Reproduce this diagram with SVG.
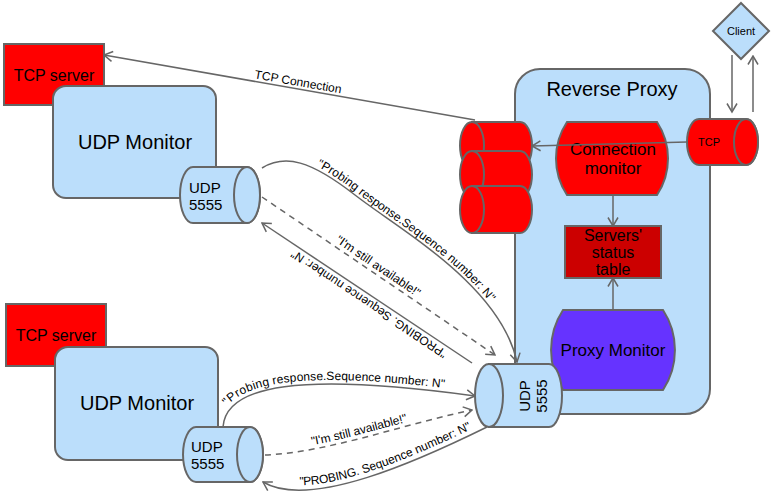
<svg xmlns="http://www.w3.org/2000/svg" width="774" height="497" viewBox="0 0 774 497">
<style>
.s{stroke:#666666;stroke-width:2}
.blue{fill:#BBDEFB}
.red{fill:#FF0000}
text{font-family:"Liberation Sans",Arial,Helvetica,sans-serif;fill:#000000}
.c{fill:none;stroke:#666666;stroke-width:1.5}
.d{stroke-dasharray:6 5}
.lbl{font-size:12px}
.m{text-anchor:middle}
</style>
<defs>
<marker id="arr" viewBox="-1 -7 11 14" refX="8.5" refY="0" markerWidth="11" markerHeight="14" markerUnits="userSpaceOnUse" orient="auto">
<path d="M0,-5 L8.5,0 L0,5" fill="none" stroke="#666666" stroke-width="1.5"/>
</marker>
<path id="tp-tcp" d="M104,55 L475,120"/>
<path id="tp-bprobe" d="M263,482 C310,510 420,460 487,427"/>
</defs>
<rect x="0" y="0" width="774" height="497" fill="#FFFFFF"/>

<g id="tcp-server-1">
<rect x="4" y="44" width="100" height="61" class="red s"/>
<text x="54" y="81" font-size="16" class="m">TCP server</text>
</g>
<g id="udp-monitor-1">
<rect x="53" y="86" width="163" height="112" rx="13" class="blue s"/>
<text x="135" y="149" font-size="20" class="m">UDP Monitor</text>
</g>
<g id="udp-port-1">
<path d="M193,167 L247,167 A13,28 0 0 1 247,223 L193,223 A13,28 0 0 1 193,167 Z" class="blue s"/>
<ellipse cx="247" cy="195" rx="13" ry="28" class="blue s"/>
<text x="189" y="193" font-size="15">UDP</text>
<text x="189" y="210" font-size="15">5555</text>
</g>

<g id="tcp-server-2">
<rect x="6" y="304" width="100" height="62" class="red s"/>
<text x="56" y="341" font-size="16" class="m">TCP server</text>
</g>
<g id="udp-monitor-2">
<rect x="55" y="347" width="163" height="113" rx="13" class="blue s"/>
<text x="137" y="410" font-size="20" class="m">UDP Monitor</text>
</g>
<g id="udp-port-2">
<path d="M196,427 L250,427 A13,27.5 0 0 1 250,482 L196,482 A13,27.5 0 0 1 196,427 Z" class="blue s"/>
<ellipse cx="250" cy="454.5" rx="13" ry="27.5" class="blue s"/>
<text x="191" y="452" font-size="15">UDP</text>
<text x="191" y="469" font-size="15">5555</text>
</g>

<g id="reverse-proxy">
<rect x="515" y="69" width="195" height="345" rx="25" class="blue s"/>
<text x="612" y="96" font-size="20" class="m">Reverse Proxy</text>
</g>

<g id="backend-connections">
<path d="M472,122 L520,122 A12,23.5 0 0 1 520,169 L472,169 Z" class="red s"/>
<ellipse cx="472" cy="145.5" rx="12" ry="23.5" class="red s"/>
<path d="M472,151 L520,151 A12,23.5 0 0 1 520,198 L472,198 Z" class="red s"/>
<ellipse cx="472" cy="174.5" rx="12" ry="23.5" class="red s"/>
<path d="M472,186 L520,186 A12,23.5 0 0 1 520,233 L472,233 Z" class="red s"/>
<ellipse cx="472" cy="209.5" rx="12" ry="23.5" class="red s"/>
</g>

<g id="tcp-port">
<path d="M699,119 L746,119 A12,23 0 0 1 746,165 L699,165 A12,23 0 0 1 699,119 Z" class="red s"/>
<ellipse cx="746" cy="142" rx="12" ry="23" class="red s"/>
<text x="698" y="146" font-size="11">TCP</text>
</g>

<g id="connection-monitor">
<path d="M567,122 L657,122 A66,66 0 0 1 657,195 L567,195 A66,66 0 0 1 567,122 Z" class="red s"/>
<text x="613" y="155" font-size="17" class="m">Connection</text>
<text x="613" y="174" font-size="17" class="m">monitor</text>
</g>

<g id="status-table">
<rect x="565" y="226" width="96" height="52" fill="#CC0000" class="s"/>
<text x="613" y="241" font-size="16" class="m">Servers'</text>
<text x="613" y="258" font-size="16" class="m">status</text>
<text x="613" y="275" font-size="16" class="m">table</text>
</g>

<g id="proxy-monitor">
<path d="M563,310 L663,310 A73,73 0 0 1 663,390 L563,390 A73,73 0 0 1 563,310 Z" fill="#6633FF" class="s"/>
<text x="613" y="356" font-size="17" class="m">Proxy Monitor</text>
</g>

<g id="udp-port-proxy">
<path d="M489,364 L549,364 A13,31.5 0 0 1 549,427 L489,427 Z" class="blue s"/>
<ellipse cx="489" cy="395.5" rx="14" ry="31.5" class="blue s"/>
<text transform="translate(530,396) rotate(-90)" font-size="15" class="m">UDP</text>
<text transform="translate(547,396) rotate(-90)" font-size="15" class="m">5555</text>
</g>

<g id="client">
<polygon points="741,3 769,31 741,59 713,31" class="blue s"/>
<text x="741" y="35" font-size="11" class="m">Client</text>
</g>

<g id="connectors">
<path id="e-tcp" d="M475,120 L104,55" class="c" marker-end="url(#arr)"/>
<path d="M732,55 L732,112" class="c" marker-end="url(#arr)"/>
<path d="M753,112 L753,56" class="c" marker-end="url(#arr)"/>
<path d="M687,142 L532,146" class="c" marker-end="url(#arr)"/>
<path d="M613,195 L613,226" class="c" marker-end="url(#arr)"/>
<path d="M613,310 L613,278" class="c" marker-end="url(#arr)"/>
<path id="e-tresp" d="M262,168 C285,154 310,160 355,195 C400,230 500,285 517,362" class="c" marker-end="url(#arr)"/>
<path id="e-tavail" d="M262,197 L495,355" class="c d" marker-end="url(#arr)"/>
<path id="e-tprobe" d="M472,363 L262,223" class="c" marker-end="url(#arr)"/>
<path id="e-bresp" d="M223,427 C226,385 300,372 475,396" class="c" marker-end="url(#arr)"/>
<path id="e-bavail" d="M265,455 C330,452 400,425 472,410" class="c d" marker-end="url(#arr)"/>
<path id="e-bprobe" d="M487,427 C420,460 310,510 263,482" class="c" marker-end="url(#arr)"/>

<text class="lbl" dy="-3"><textPath href="#tp-tcp" startOffset="52%" text-anchor="middle">TCP Connection</textPath></text>
<text class="lbl" dy="-3"><textPath href="#e-tresp" startOffset="56">"Probing response.Sequence number: N"</textPath></text>
<text class="lbl" dy="-4"><textPath href="#e-tavail" startOffset="48%" text-anchor="middle">"I'm still available!"</textPath></text>
<text class="lbl" dy="-4"><textPath href="#e-tprobe" startOffset="47%" text-anchor="middle">"PROBING. Sequence number: N"</textPath></text>
<text class="lbl" dy="-4"><textPath href="#e-bresp" startOffset="20">"Probing response.Sequence number: N"</textPath></text>
<text class="lbl" dy="-4"><textPath href="#e-bavail" startOffset="46%" text-anchor="middle">"I'm still available!"</textPath></text>
<text class="lbl" dy="-5"><textPath href="#tp-bprobe" startOffset="38">"PROBING. Sequence number: N"</textPath></text>
</g>
</svg>
